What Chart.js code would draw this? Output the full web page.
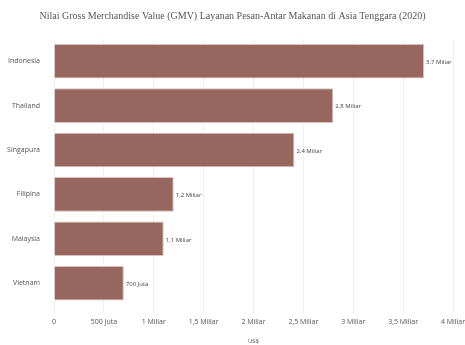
<!DOCTYPE html>
<html>
<head>
<meta charset="utf-8">
<script src="https://cdn.jsdelivr.net/npm/chart.js@4"></script>
<style>
  html, body { margin: 0; padding: 0; background: #fff; }
  #wrap { width: 465px; height: 345px; }
</style>
</head>
<body>
<div id="wrap"><canvas id="gmv"></canvas></div>
<script>
// data (US$)
var countries = ['Indonesia', 'Thailand', 'Singapura', 'Filipina', 'Malaysia', 'Vietnam'];
var gmvValues = [3.71e9, 2.8e9, 2.41e9, 1.2e9, 1.1e9, 0.7e9];
var valueLabels = ['3,7 Miliar', '2,8 Miliar', '2,4 Miliar', '1,2 Miliar', '1,1 Miliar', '700 Juta'];
var tickLabels = ['0', '500 Juta', '1 Miliar', '1,5 Miliar', '2 Miliar', '2,5 Miliar', '3 Miliar', '3,5 Miliar', '4 Miliar'];

// small labels at the end of each bar
var barLabels = {
  id: 'barLabels',
  afterDatasetsDraw: function(chart) {
    var ctx = chart.ctx;
    var meta = chart.getDatasetMeta(0);
    ctx.save();
    ctx.font = '6px "Open Sans"';
    ctx.fillStyle = '#444';
    ctx.textAlign = 'left';
    ctx.textBaseline = 'middle';
    meta.data.forEach(function(bar, i) {
      ctx.fillText(valueLabels[i], bar.x + 2, bar.y + 1);
    });
    ctx.restore();
  }
};

Chart.defaults.font.family = '"Open Sans", sans-serif';
Chart.defaults.font.size = 7;
Chart.defaults.color = '#555';

new Chart('gmv', {
  type: 'bar',
  plugins: [barLabels],
  data: {
    labels: countries,
    datasets: [{
      data: gmvValues,
      backgroundColor: '#97665e',
      borderColor: '#dcc0bb',
      borderWidth: 1,
      categoryPercentage: 0.78,
      barPercentage: 1
    }]
  },
  options: {
    indexAxis: 'y',
    responsive: true,
    maintainAspectRatio: false,
    animation: false,
    layout: { padding: { top: 6, right: 0, bottom: 0, left: 0 } },
    plugins: {
      legend: { display: false },
      tooltip: { enabled: false },
      title: {
        display: true,
        text: 'Nilai Gross Merchandise Value (GMV) Layanan Pesan-Antar Makanan di Asia Tenggara (2020)',
        font: { family: '"Liberation Serif", serif', size: 10, weight: 'normal' },
        color: '#555',
        padding: { top: 4, bottom: 17 }
      }
    },
    scales: {
      x: {
        min: 0,
        max: 4e9,
        grid: { color: '#f0f0f0', drawTicks: true, tickLength: 8, tickColor: '#f0f0f0' },
        border: { display: false },
        ticks: {
          stepSize: 5e8,
          padding: 4,
          maxRotation: 0,
          callback: function(v, i) { return tickLabels[i]; }
        },
        title: { display: true, text: 'US$', font: { size: 6 }, padding: { top: 8, bottom: 0 } },
        afterFit: function(scale) { scale.paddingRight = 12; }
      },
      y: {
        grid: { display: false },
        border: { display: false },
        ticks: { padding: 6 },
        afterFit: function(scale) { scale.width = 54; }
      }
    }
  }
});
</script>
</body>
</html>
